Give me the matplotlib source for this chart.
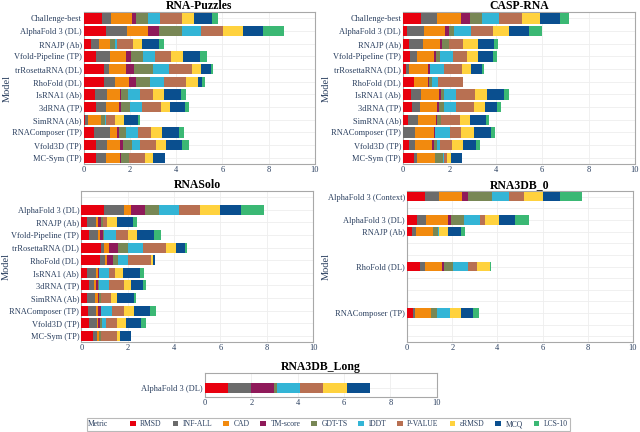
import numpy as np
import matplotlib
matplotlib.use("Agg")
import matplotlib.pyplot as plt
from matplotlib.patches import Patch

plt.rcParams['font.family'] = ['Liberation Serif', 'DejaVu Serif']

metrics = ['RMSD', 'INF-ALL', 'CAD', 'TM-score', 'GDT-TS', 'lDDT',
           'P-VALUE', 'εRMSD', 'MCQ', 'LCS-10']
colors = ['#e8000e', '#6b6b6b', '#f28a0e', '#8f1a5a', '#788755',
          '#33b5d6', '#b87052', '#ffd23e', '#0a4f8f', '#3bb874']

# RNA-Puzzles
puzzles_models = ['Challenge-best', 'AlphaFold 3 (DL)', 'RNAJP (Ab)', 'Vfold-Pipeline (TP)',
                  'trRosettaRNA (DL)', 'RhoFold (DL)', 'IsRNA1 (Ab)', '3dRNA (TP)',
                  'SimRNA (Ab)', 'RNAComposer (TP)', 'Vfold3D (TP)', 'MC-Sym (TP)']
puzzles_vals = [
    [0.79, 0.37, 0.92, 0.17, 0.52, 0.52, 0.94, 0.55, 0.75, 0.26],
    [0.97, 0.91, 0.88, 0.48, 0.99, 0.84, 0.94, 0.86, 0.89, 0.89],
    [0.30, 0.36, 0.46, 0.00, 0.22, 0.10, 0.69, 0.40, 0.72, 0.20],
    [0.53, 0.61, 0.68, 0.20, 0.53, 0.55, 0.66, 0.53, 0.73, 0.33],
    [0.88, 0.20, 0.73, 0.36, 0.82, 0.68, 0.99, 0.43, 0.40, 0.10],
    [0.89, 0.46, 0.62, 0.27, 0.62, 0.61, 0.97, 0.49, 0.20, 0.13],
    [0.50, 0.52, 0.53, 0.07, 0.30, 0.50, 0.58, 0.48, 0.73, 0.22],
    [0.52, 0.45, 0.55, 0.10, 0.37, 0.52, 0.84, 0.40, 0.61, 0.20],
    [0.05, 0.12, 0.58, 0.00, 0.17, 0.02, 0.40, 0.40, 0.59, 0.10],
    [0.42, 0.71, 0.30, 0.09, 0.29, 0.52, 0.56, 0.49, 0.72, 0.23],
    [0.53, 0.46, 0.58, 0.13, 0.39, 0.33, 0.69, 0.45, 0.68, 0.32],
    [0.52, 0.42, 0.62, 0.04, 0.35, 0.00, 0.69, 0.37, 0.52, 0.00],
]

# CASP-RNA
casp_models = puzzles_models
casp_vals = [
    [0.76, 0.71, 1.01, 0.39, 0.55, 0.72, 0.97, 0.81, 0.84, 0.39],
    [0.17, 0.71, 0.94, 0.14, 0.23, 0.72, 0.97, 0.68, 0.85, 0.58],
    [0.26, 0.59, 0.75, 0.09, 0.27, 0.01, 0.59, 0.65, 0.71, 0.16],
    [0.30, 0.30, 0.72, 0.09, 0.17, 0.59, 0.58, 0.50, 0.62, 0.19],
    [0.13, 0.12, 0.81, 0.10, 0.00, 0.58, 0.81, 0.39, 0.45, 0.09],
    [0.46, 0.00, 0.59, 0.07, 0.14, 0.26, 1.04, 0.00, 0.00, 0.00],
    [0.35, 0.43, 0.78, 0.06, 0.14, 0.52, 0.82, 0.52, 0.72, 0.23],
    [0.37, 0.35, 0.72, 0.09, 0.24, 0.50, 0.79, 0.48, 0.52, 0.17],
    [0.20, 0.42, 0.81, 0.04, 0.14, 0.00, 0.84, 0.42, 0.71, 0.14],
    [0.00, 0.50, 0.81, 0.07, 0.00, 0.63, 0.49, 0.56, 0.72, 0.17],
    [0.26, 0.25, 0.73, 0.07, 0.13, 0.14, 0.53, 0.45, 0.58, 0.17],
    [0.45, 0.16, 0.75, 0.00, 0.37, 0.02, 0.13, 0.17, 0.50, 0.00],
]

# RNASolo (no Challenge-best entry)
solo_models = puzzles_models
solo_vals = [
    [0.00, 0.00, 0.00, 0.00, 0.00, 0.00, 0.00, 0.00, 0.00, 0.00],
    [0.97, 0.86, 0.32, 0.60, 0.60, 0.86, 0.89, 0.89, 0.90, 1.00],
    [0.23, 0.39, 0.11, 0.10, 0.11, 0.00, 0.19, 0.40, 0.70, 0.17],
    [0.32, 0.42, 0.06, 0.13, 0.06, 0.49, 0.54, 0.40, 0.72, 0.29],
    [0.86, 0.10, 0.24, 0.40, 0.40, 0.66, 0.99, 0.42, 0.42, 0.07],
    [0.80, 0.21, 0.09, 0.27, 0.23, 0.42, 0.99, 0.09, 0.09, 0.00],
    [0.26, 0.39, 0.06, 0.04, 0.00, 0.43, 0.29, 0.34, 0.74, 0.16],
    [0.32, 0.24, 0.09, 0.06, 0.06, 0.43, 0.62, 0.32, 0.53, 0.11],
    [0.24, 0.34, 0.13, 0.06, 0.06, 0.00, 0.43, 0.29, 0.72, 0.07],
    [0.29, 0.34, 0.10, 0.10, 0.00, 0.50, 0.53, 0.40, 0.69, 0.27],
    [0.32, 0.34, 0.06, 0.10, 0.06, 0.19, 0.49, 0.36, 0.66, 0.23],
    [0.52, 0.17, 0.06, 0.00, 0.10, 0.00, 0.67, 0.14, 0.49, 0.00],
]

# RNA3DB_0
db0_models = ['AlphaFold 3 (Context)'] + puzzles_models
db0_vals = [
    [0.80, 0.61, 1.02, 0.27, 1.04, 0.77, 0.65, 0.84, 0.77, 0.99],
    [0.00, 0.00, 0.00, 0.00, 0.00, 0.00, 0.00, 0.00, 0.00, 0.00],
    [0.43, 0.41, 0.96, 0.13, 0.58, 0.71, 0.25, 0.58, 0.72, 0.64],
    [0.24, 0.15, 0.75, 0.00, 0.24, 0.03, 0.00, 0.41, 0.56, 0.19],
    [0.00, 0.00, 0.00, 0.00, 0.00, 0.00, 0.00, 0.00, 0.00, 0.00],
    [0.00, 0.00, 0.00, 0.00, 0.00, 0.00, 0.00, 0.00, 0.00, 0.00],
    [0.59, 0.21, 0.75, 0.09, 0.40, 0.64, 0.40, 0.59, 0.00, 0.03],
    [0.00, 0.00, 0.00, 0.00, 0.00, 0.00, 0.00, 0.00, 0.00, 0.00],
    [0.00, 0.00, 0.00, 0.00, 0.00, 0.00, 0.00, 0.00, 0.00, 0.00],
    [0.00, 0.00, 0.00, 0.00, 0.00, 0.00, 0.00, 0.00, 0.00, 0.00],
    [0.27, 0.10, 0.71, 0.00, 0.24, 0.59, 0.00, 0.46, 0.56, 0.24],
    [0.00, 0.00, 0.00, 0.00, 0.00, 0.00, 0.00, 0.00, 0.00, 0.00],
    [0.00, 0.00, 0.00, 0.00, 0.00, 0.00, 0.00, 0.00, 0.00, 0.00],
]

# RNA3DB_Long
long_models = ['AlphaFold 3 (DL)']
long_vals = [
    [0.99, 1.00, 0.00, 0.99, 0.13, 1.00, 0.99, 1.02, 0.99, 0.00],
]

txt = '#2a3f5f'
edge = '#a8a8a8'


def panel(ax, title, models, vals, ylim=None):
    vals = np.array(vals)
    y = np.arange(len(models))
    left = np.zeros(len(models))
    for j in range(len(metrics)):
        ax.barh(y, vals[:, j], left=left, height=0.8, color=colors[j],
                linewidth=0, zorder=3)
        left += vals[:, j]
    labels = [m if vals[i].sum() > 0 else '' for i, m in enumerate(models)]
    ax.set_yticks(y)
    ax.set_yticklabels(labels)
    if ylim is None:
        ax.set_ylim(len(models) - 0.5, -0.5)
    else:
        ax.set_ylim(*ylim)
    ax.set_xlim(0, 10)
    ax.set_xticks([0, 2, 4, 6, 8, 10])
    ax.grid(True, color='#eeeeee', linewidth=0.6, zorder=0)
    ax.tick_params(length=0, pad=1.5, labelsize=6, labelcolor=txt)
    for s in ax.spines.values():
        s.set_color(edge)
        s.set_linewidth(0.8)
    ax.set_title(title, fontsize=8.5, fontweight='bold', pad=2)


fig = plt.figure(figsize=(6.4, 4.32), dpi=100)

ax1 = fig.add_axes([0.131, 0.620, 0.361, 0.352])
panel(ax1, 'RNA-Puzzles', puzzles_models, puzzles_vals)

ax2 = fig.add_axes([0.630, 0.620, 0.362, 0.352])
panel(ax2, 'CASP-RNA', casp_models, casp_vals)

ax3 = fig.add_axes([0.127, 0.208, 0.3625, 0.350])
panel(ax3, 'RNASolo', solo_models, solo_vals)

ax4 = fig.add_axes([0.636, 0.208, 0.353, 0.350])
panel(ax4, 'RNA3DB_0', db0_models, db0_vals)

ax5 = fig.add_axes([0.320, 0.081, 0.3625, 0.056])
panel(ax5, 'RNA3DB_Long', long_models, long_vals, ylim=(0.72, -1.2))

# y-axis titles
for xp, yp in [(7, 88), (326, 88), (6, 266), (326, 266)]:
    fig.text(xp / 640, 1 - yp / 432, 'Model', rotation=90, ha='center',
             va='center', fontsize=7.5, color=txt)

handles = [Patch(facecolor='none', edgecolor='none')]
handles += [Patch(facecolor=c, edgecolor='none') for c in colors]
leg = fig.legend(handles, ['Metric'] + metrics, loc='center',
                 bbox_to_anchor=(0.513, 0.0174), ncol=11, fontsize=5.5,
                 frameon=True, fancybox=False, handlelength=0.7, handleheight=0.7,
                 handletextpad=0.6, columnspacing=1.45, borderpad=0.3)
leg.get_frame().set_edgecolor(edge)
leg.get_frame().set_linewidth(0.8)
for t in leg.get_texts():
    t.set_color(txt)
leg.get_texts()[0].set_position((-11, 0))

fig.savefig('out.png', dpi=100)
